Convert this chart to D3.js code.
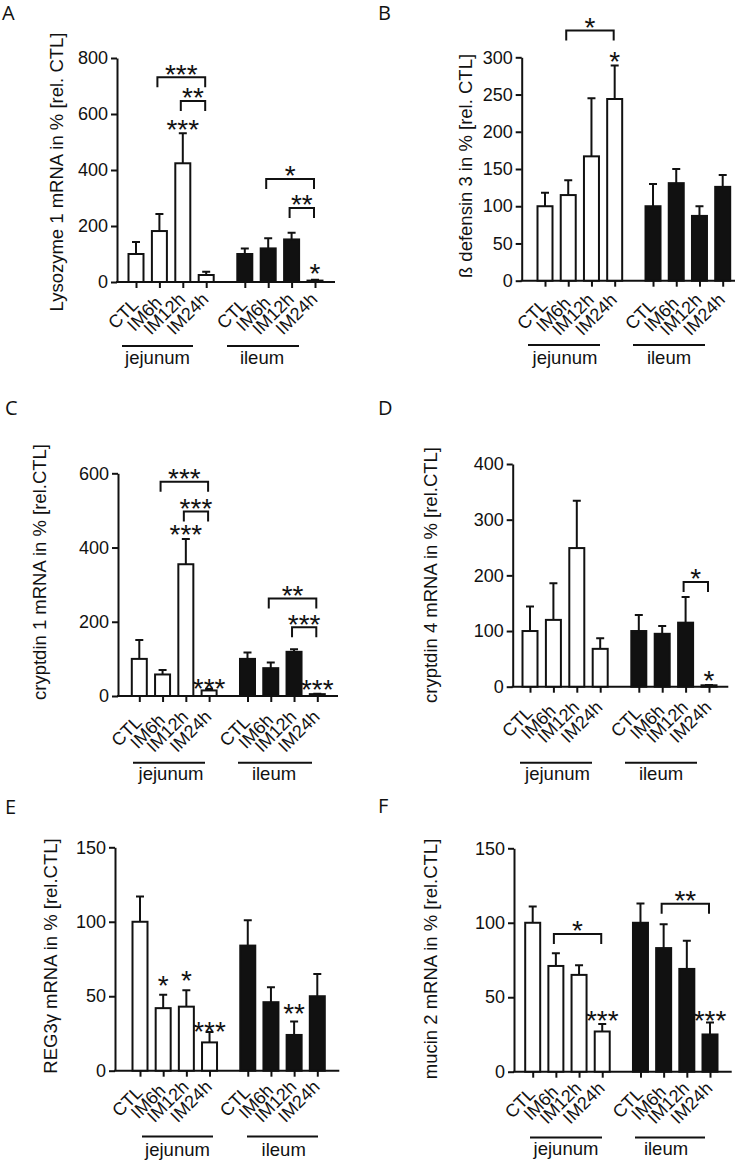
<!DOCTYPE html>
<html><head><meta charset="utf-8">
<script src="https://cdn.jsdelivr.net/npm/d3@7"></script>
<style>body{margin:0;background:#fff}svg{display:block}</style>
</head><body>
<script>
// ---------- data ----------
const categories = ["CTL", "IM6h", "IM12h", "IM24h"];
const tissues = ["jejunum", "ileum"];
const panelLetters = ["A", "B", "C", "D", "E", "F"];
const yTitles = [
  "Lysozyme 1 mRNA in % [rel. CTL]",
  "ß defensin 3 in % [rel. CTL]",
  "cryptdin 1 mRNA in % [rel.CTL]",
  "cryptdin 4 mRNA in % [rel.CTL]",
  "REG3γ mRNA in % [rel.CTL]",
  "mucin 2 mRNA in % [rel.CTL]"
];
const yMax = [800, 300, 600, 400, 150, 150];
const yTickStep = [200, 50, 200, 100, 50, 50];

// values: jejunum CTL, IM6h, IM12h, IM24h, then ileum CTL, IM6h, IM12h, IM24h
const lysozymeMean = [100, 182, 424, 25, 100, 120, 152, 5];
const lysozymeErr  = [143, 243, 531, 37, 120, 156, 176, 8];
const defensinMean = [100, 115, 167, 244, 100, 131, 87, 126];
const defensinErr  = [118, 135, 245, 289, 130, 150, 100, 142];
const cryptdin1Mean = [100, 58, 355, 15, 100, 75, 119, 5];
const cryptdin1Err  = [151, 70, 423, 19, 117, 90, 126, 6];
const cryptdin4Mean = [100, 120, 249, 68, 100, 95, 115, 2.5];
const cryptdin4Err  = [144, 186, 334, 87, 129, 109, 161, 3];
const reg3gMean = [100, 42, 43, 19, 84, 46, 24, 50];
const reg3gErr  = [117, 51, 54, 26, 101, 56, 33, 65];
const mucin2Mean = [100, 71, 65, 27, 100, 83, 69, 25];
const mucin2Err  = [111, 79.5, 71.5, 32, 113, 99, 88, 33];

// significance marks over single bars: [bar index, level (data units), label]
const starsA = [[2, 568, "***"], [7, 54, "*"]];
const starsB = [[3, 303, "*"]];
const starsC = [[2, 453, "***"], [3, 38, "***"], [7, 36, "***"]];
const starsD = [[7, 24, "*"]];
const starsE = [[1, 62, "*"], [2, 65, "*"], [3, 31, "***"], [6, 43, "**"]];
const starsF = [[3, 39, "***"], [7, 39, "***"]];
// brackets: [from index, to index, level (data units), label]
const bracketsA = [[1, 3, 731, "***"], [2, 3, 646, "**"], [5, 7, 368, "*"], [6, 7, 264, "**"]];
const bracketsB = [[1, 3, 336, "*"]];
const bracketsC = [[1, 3, 577, "***"], [2, 3, 497, "***"], [5, 7, 263, "**"], [6, 7, 185, "***"]];
const bracketsD = [[6, 7, 188, "*"]];
const bracketsE = [];
const bracketsF = [[1, 3, 92.5, "*"], [5, 7, 112.7, "**"]];

const means = [lysozymeMean, defensinMean, cryptdin1Mean, cryptdin4Mean, reg3gMean, mucin2Mean];
const errs = [lysozymeErr, defensinErr, cryptdin1Err, cryptdin4Err, reg3gErr, mucin2Err];
const stars = [starsA, starsB, starsC, starsD, starsE, starsF];
const brackets = [bracketsA, bracketsB, bracketsC, bracketsD, bracketsE, bracketsF];

// ---------- layout ----------
const layout = [
  {axisX:117, first:136, last:315, axisEnd:335, yTop:58, y0:282, letter:[2,19.5], title:[63,172], xlab:36, grpLineY:346, grpTextY:364, grp:[[122,193,157.5],[227,299,262]]},
  {axisX:521.7, first:545, last:722.7, axisEnd:735, yTop:57.3, y0:280.7, letter:[378,20], title:[471.7,166], xlab:38, grpLineY:345, grpTextY:364, grp:[[528,600,565],[633,705,669]]},
  {axisX:118, first:139.3, last:317.3, axisEnd:338, yTop:473.3, y0:696, letter:[5,415], title:[46,572], xlab:39.5, grpLineY:762.7, grpTextY:779.5, grp:[[133,205,171],[238,312,274]]},
  {axisX:512.7, first:530, last:709, axisEnd:728.3, yTop:464, y0:686.7, letter:[378,415], title:[436.7,575], xlab:39.5, grpLineY:762.7, grpTextY:779.5, grp:[[520,592,557.5],[625,697,661]]},
  {axisX:115, first:140, last:317.3, axisEnd:339.3, yTop:847.3, y0:1070.7, letter:[5,814.3], title:[57.3,956], xlab:35, grpLineY:1136.5, grpTextY:1156, grp:[[142,213,177.5],[247,318,283.7]]},
  {axisX:514, first:532.7, last:710, axisEnd:731.7, yTop:848.3, y0:1071.7, letter:[378,813.3], title:[437.3,959], xlab:35.5, grpLineY:1137.5, grpTextY:1155, grp:[[530,602,566],[635,705,666]]}
];
const slotPos = [0, 1, 2, 3, 4.65, 5.65, 6.65, 7.65];
const FONT = "'Liberation Sans', Arial, Helvetica, sans-serif";
const STAR_SIZE = 28;
const SW = 2;

const svg = d3.select("body").append("svg").attr("width", 744).attr("height", 1161);
svg.append("rect").attr("width", 744).attr("height", 1161).attr("fill", "#fff");

layout.forEach((L, p) => {
  const g = svg.append("g");
  const x = d3.scaleLinear().domain([0, 7.65]).range([L.first, L.last]);
  const y = d3.scaleLinear().domain([0, yMax[p]]).range([L.y0, L.yTop]);
  const bx = i => x(slotPos[i]);

  // panel letter
  g.append("text").attr("x", L.letter[0]).attr("y", L.letter[1])
    .attr("font-family", "'Open Sans', sans-serif").attr("font-size", 20).attr("fill", "#111")
    .text(panelLetters[p]);

  // y title
  g.append("text").attr("transform", `translate(${L.title[0]},${L.title[1]}) rotate(-90)`)
    .attr("text-anchor", "middle").attr("font-family", FONT).attr("font-size", 18.5).attr("fill", "#111")
    .text(yTitles[p]);

  // y axis
  const ticks = d3.range(0, yMax[p] + 0.001, yTickStep[p]);
  const ya = g.append("g").attr("transform", `translate(${L.axisX},0)`)
    .call(d3.axisLeft(y).tickValues(ticks).tickSize(6).tickSizeOuter(0).tickPadding(3));
  ya.select(".domain").attr("stroke", "#111").attr("stroke-width", SW);
  ya.selectAll(".tick line").attr("stroke", "#111").attr("stroke-width", SW);
  ya.selectAll(".tick text").attr("font-family", FONT).attr("font-size", 18).attr("fill", "#111");

  // x axis line + ticks
  g.append("line").attr("x1", L.axisX - 1).attr("x2", L.axisEnd).attr("y1", L.y0).attr("y2", L.y0)
    .attr("stroke", "#111").attr("stroke-width", SW);
  const xa = g.append("g").attr("transform", `translate(0,${L.y0})`)
    .call(d3.axisBottom(x).tickValues(slotPos).tickSize(6).tickFormat(""));
  xa.select(".domain").remove();
  xa.selectAll(".tick line").attr("stroke", "#111").attr("stroke-width", SW);

  // bars
  const vals = means[p], ev = errs[p];
  g.selectAll(".eb").data(vals).enter().append("path")
    .attr("d", (v, i) => `M${bx(i)},${y(v)}V${y(ev[i])}M${bx(i) - 4},${y(ev[i])}H${bx(i) + 4}`)
    .attr("stroke", "#111").attr("stroke-width", SW).attr("fill", "none");
  g.selectAll(".bar").data(vals).enter().append("rect")
    .attr("x", (v, i) => bx(i) - 7.5).attr("width", 15)
    .attr("y", v => y(v)).attr("height", v => L.y0 - y(v))
    .attr("fill", (v, i) => i < 4 ? "#fff" : "#111")
    .attr("stroke", "#111").attr("stroke-width", SW);

  // x labels (rotated 45°, right end near tick, vertically centred)
  vals.forEach((v, i) => {
    const t = g.append("text").attr("text-anchor", "end").attr("font-family", FONT)
      .attr("font-size", 18).attr("fill", "#111").text(categories[i % 4]);
    const len = t.node().getComputedTextLength();
    t.attr("transform", `translate(${bx(i) + 3.5},${L.y0 + L.xlab - len * 0.3536}) rotate(-45)`);
  });

  // group lines + labels
  L.grp.forEach((gr, k) => {
    g.append("line").attr("x1", gr[0]).attr("x2", gr[1]).attr("y1", L.grpLineY).attr("y2", L.grpLineY)
      .attr("stroke", "#111").attr("stroke-width", SW);
    g.append("text").attr("x", gr[2]).attr("y", L.grpTextY).attr("text-anchor", "middle")
      .attr("font-family", FONT).attr("font-size", 18.5).attr("fill", "#111").text(tissues[k]);
  });

  // stars over bars
  stars[p].forEach(s => {
    g.append("text").attr("x", bx(s[0])).attr("y", y(s[1]) + STAR_SIZE * 0.58)
      .attr("text-anchor", "middle").attr("font-family", FONT).attr("font-size", STAR_SIZE).attr("fill", "#111")
      .text(s[2]);
  });
  // brackets
  brackets[p].forEach(b => {
    const x1 = bx(b[0]) - 2, x2 = bx(b[1]) - 1, yl = y(b[2]);
    g.append("path").attr("d", `M${x1},${yl + 10}V${yl}H${x2}V${yl + 10}`)
      .attr("stroke", "#111").attr("stroke-width", SW).attr("fill", "none");
    g.append("text").attr("x", (x1 + x2) / 2).attr("y", yl - 10 + STAR_SIZE * 0.58)
      .attr("text-anchor", "middle").attr("font-family", FONT).attr("font-size", STAR_SIZE).attr("fill", "#111")
      .text(b[3]);
  });
});
</script>
</body></html>
